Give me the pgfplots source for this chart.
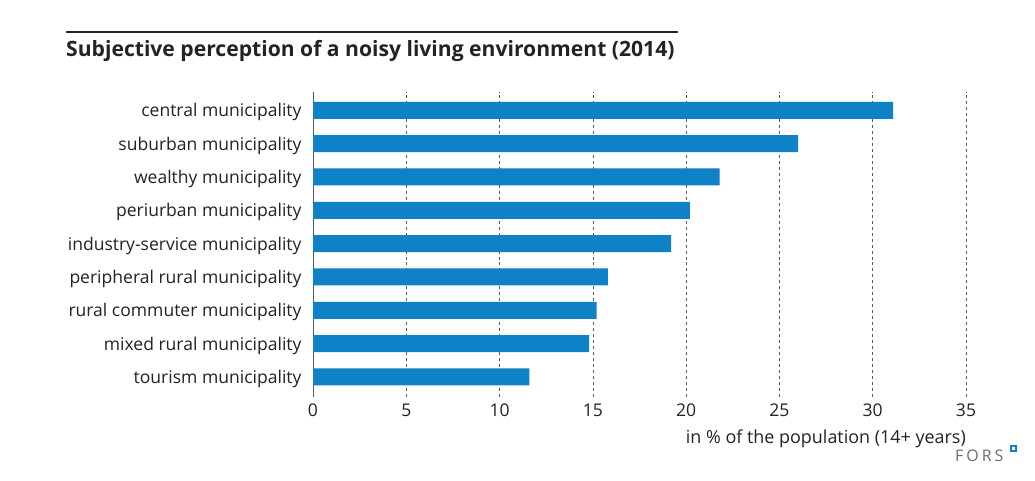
\documentclass[border=0pt]{standalone}
\usepackage{fontspec}
\setmainfont{Open Sans}
\usepackage{pgfplots}
\pgfplotsset{compat=1.18}
\definecolor{barblue}{RGB}{14,129,199}
\definecolor{txt}{RGB}{35,35,35}
\definecolor{gridc}{RGB}{90,90,90}

\begin{document}
\begin{tikzpicture}[x=1bp,y=1bp]
\fill[white] (0,0) rectangle (1035,481);
\path[use as bounding box] (0,0) rectangle (1035,481);

% title and rule
\draw[txt, line width=2bp] (66,449) -- (678,449);
\node[anchor=base west, inner sep=0pt, text=txt, font=\bfseries\fontsize{21.2}{25}\selectfont] at (66,424) {Subjective perception of a noisy living environment (2014)};

\begin{axis}[
    at={(313bp,84bp)}, anchor=south west,
    scale only axis, width=653bp, height=305bp,
    xbar, bar width=17bp,
    xmin=0, xmax=35, ymin=-0.6, ymax=8.55,
    xtick={0,5,...,35},
    ytick=data,
    yticklabels={tourism municipality, mixed rural municipality, rural commuter municipality, peripheral rural municipality, industry-service municipality, periurban municipality, wealthy municipality, suburban municipality, central municipality},
    axis y line*=left, axis x line*=bottom,
    x axis line style={draw=none},
    y axis line style={draw=gridc, line width=0.8bp},
    major tick length=0pt,
    xmajorgrids, grid style={gridc, dashed, line width=0.6bp},
    ymajorgrids=false,
    tick label style={text=txt, font=\fontsize{17.6}{21}\selectfont},
    /pgf/number format/assume math mode=true,
    yticklabel style={xshift=-8bp, yshift=-2bp},
    xticklabel style={yshift=-3bp},
    clip=false,
]
\addplot[draw=none, fill=barblue] coordinates {
    (11.6,0) (14.8,1) (15.2,2) (15.8,3) (19.2,4) (20.2,5) (21.8,6) (26.0,7) (31.1,8)
};
\node[anchor=base east, inner sep=0pt, text=txt, font=\fontsize{18}{21}\selectfont] at (rel axis cs:1,0) [yshift=-47bp] {in \% of the population (14+ years)};
\end{axis}

% FORS logo
\node[anchor=base west, inner sep=0pt, text=gray!85!black, font=\fontsize{16}{18}\selectfont] at (955,19) {F\hspace{3bp}O\hspace{3bp}R\hspace{3bp}S};
\draw[barblue, line width=1.6bp] (1011,30) rectangle (1016,35);
\end{tikzpicture}
\end{document}
